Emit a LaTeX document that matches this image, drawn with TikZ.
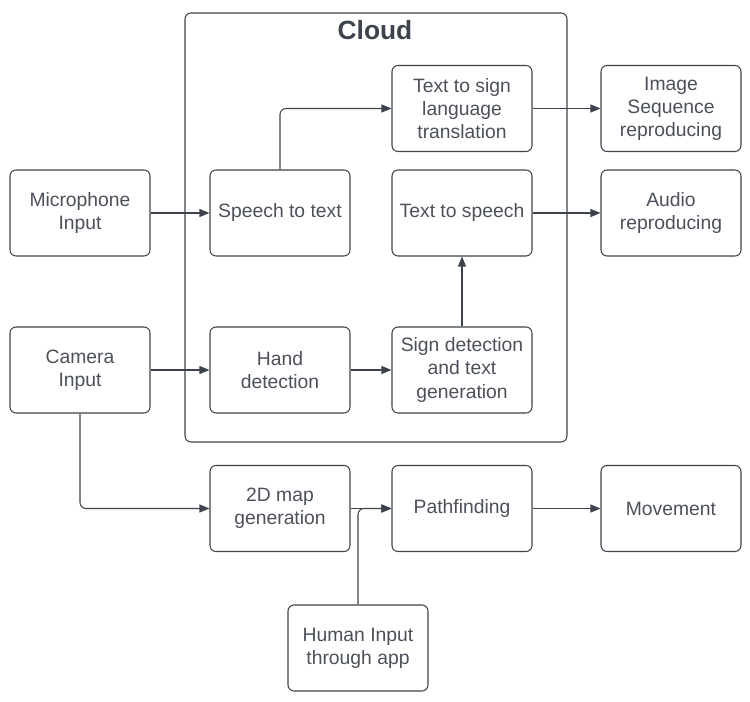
\documentclass[tikz,border=0pt]{standalone}
\usepackage{fontspec}
\setmainfont{Liberation Sans}
\usetikzlibrary{arrows.meta,positioning}
\definecolor{linegray}{HTML}{3D434C}
\definecolor{textgray}{HTML}{4B5059}

\begin{document}
\begin{tikzpicture}[x=0.02cm, y=-0.02cm,
    block/.style={draw=linegray, line width=0.6pt, rounded corners=1.2mm,
        minimum width=2.8cm, minimum height=1.72cm, align=center,
        text=textgray, font=\fontsize{11}{13.1}\selectfont},
    flow/.style={-{Triangle[length=2mm, width=1.6mm]}, draw=linegray,
        line width=0.6pt, rounded corners=1.2mm},
    ]
    \useasboundingbox (0,0) rectangle (750,702);

    % cloud frame
    \draw [draw=linegray, line width=0.6pt, rounded corners=1.2mm] (185,13) rectangle (567,442);
    \node (cloud) [text=linegray, font=\fontsize{15}{18}\selectfont\bfseries] at (375,30) {Cloud};

    % inputs
    \node (mic) [block] at (80,213) {Microphone\\Input};
    \node (cam) [block] at (80,370) {Camera\\Input};

    % inside the cloud
    \node (stt) [block] at (280,213) {Speech to text};
    \node (hand) [block] at (280,370) {Hand\\detection};
    \node (tsl) [block] at (462,108.5) {Text to sign\\language\\translation};
    \node (tts) [block] at (462,213) {Text to speech};
    \node (sign) [block] at (462,370) {Sign detection\\and text\\generation};

    % outputs
    \node (img) [block] at (671,108.5) {Image\\Sequence\\reproducing};
    \node (audio) [block] at (671,213) {Audio\\reproducing};

    % navigation
    \node (map) [block] at (280,508.5) {2D map\\generation};
    \node (path) [block] at (462,508.5) {Pathfinding};
    \node (move) [block] at (671,508.5) {Movement};
    \node (human) [block] at (358,648) {Human Input\\through app};

    \draw [flow] (mic) -- (stt);
    \draw [flow] (stt.north) |- (tsl.west);
    \draw [flow] (tsl) -- (img);
    \draw [flow] (tts) -- (audio);
    \draw [flow] (cam) -- (hand);
    \draw [flow] (hand) -- (sign);
    \draw [flow] (sign) -- (tts);
    \draw [flow] (cam.south) |- (map.west);
    \draw [flow] (map) -- (path);
    \draw [flow] (human.north) |- (path.west);
    \draw [flow] (path) -- (move);
\end{tikzpicture}
\end{document}
